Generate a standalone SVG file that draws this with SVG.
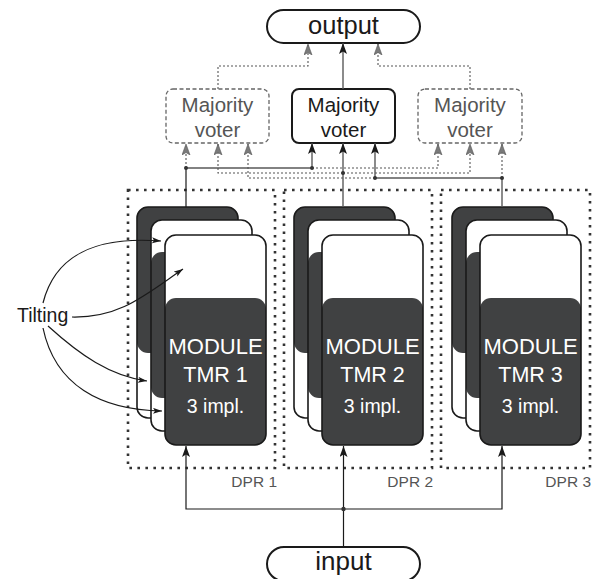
<svg xmlns="http://www.w3.org/2000/svg" xmlns:xlink="http://www.w3.org/1999/xlink" width="596" height="579" viewBox="0 0 596 579">
  <style>
    .txt { font-family: "Liberation Sans", Arial, sans-serif; }
    .pill { fill: #fff; stroke: #1a1a1a; stroke-width: 2; }
    .voter-main { fill: #fff; stroke: #1a1a1a; stroke-width: 2; }
    .voter-spare { fill: #fff; stroke: #666; stroke-width: 1.3; stroke-dasharray: 4 2.5; }
    .card { fill: #fff; }
    .card-edge { fill: none; stroke: #1a1a1a; stroke-width: 1.6; }
    .core { fill: #404142; }
    .dpr { fill: none; stroke: #333; stroke-width: 2.6; stroke-dasharray: 2.6 5.4; }
    .wire { fill: none; stroke: #1a1a1a; stroke-width: 1.2; }
    .wire-grey { fill: none; stroke: #5a5a5a; stroke-width: 1.4; }
    .wire-dot { fill: none; stroke: #555; stroke-width: 1.1; stroke-dasharray: 2 2; }
    .joint { fill: #333; }
    .lbl-dark { fill: #1a1a1a; }
    .lbl-grey { fill: #555; }
    .lbl-white { fill: #fff; }
  </style>
  <defs>
    <marker id="arrow-black" markerUnits="userSpaceOnUse" markerWidth="12" markerHeight="10" refX="11" refY="4" orient="auto">
      <path d="M0,0 L11,4 L0,8 L2.5,4 z" fill="#1a1a1a"/>
    </marker>
    <marker id="arrow-grey" markerUnits="userSpaceOnUse" markerWidth="12" markerHeight="10" refX="11" refY="4" orient="auto">
      <path d="M0,0 L11,4 L0,8 L2.5,4 z" fill="#7a7a7a" stroke="#555" stroke-width="0.6"/>
    </marker>
    <marker id="arrow-small" markerUnits="userSpaceOnUse" markerWidth="10" markerHeight="8" refX="9" refY="3" orient="auto">
      <path d="M0,0 L9,3 L0,6 L2,3 z" fill="#1a1a1a"/>
    </marker>
    <!-- three stacked implementations; the dark core slides down from back to front -->
    <g id="stack">
      <rect class="card" x="0" y="0" width="101" height="211" rx="11"/>
      <rect class="core" x="0" y="0" width="101" height="146" rx="11"/>
      <rect class="card-edge" x="0" y="0" width="101" height="211" rx="11"/>
      <rect class="card" x="14" y="13" width="101" height="211" rx="11"/>
      <rect class="core" x="14" y="45" width="101" height="146" rx="11"/>
      <rect class="card-edge" x="14" y="13" width="101" height="211" rx="11"/>
      <rect class="card" x="28" y="28" width="101" height="210" rx="11"/>
      <rect class="core" x="28" y="91" width="101" height="147" rx="11"/>
      <rect class="card-edge" x="28" y="28" width="101" height="210" rx="11"/>
    </g>
  </defs>

  <!-- reconfigurable partitions -->
  <g id="dpr1">
    <rect class="dpr" x="128" y="190" width="147" height="278"/>
    <text class="txt lbl-grey" x="277" y="487" font-size="15.5" text-anchor="end">DPR 1</text>
  </g>
  <g id="dpr2">
    <rect class="dpr" x="284" y="190" width="148" height="278"/>
    <text class="txt lbl-grey" x="433" y="487" font-size="15.5" text-anchor="end">DPR 2</text>
  </g>
  <g id="dpr3">
    <rect class="dpr" x="441" y="190" width="149" height="278"/>
    <text class="txt lbl-grey" x="591" y="487" font-size="15.5" text-anchor="end">DPR 3</text>
  </g>

  <!-- TMR modules -->
  <g id="tmr1">
    <use xlink:href="#stack" href="#stack" x="137" y="207"/>
    <text class="txt lbl-white" x="215.5" y="354" font-size="22" text-anchor="middle">MODULE</text>
    <text class="txt lbl-white" x="215.5" y="382" font-size="21.5" text-anchor="middle">TMR 1</text>
    <text class="txt lbl-white" x="215.5" y="413" font-size="19.5" text-anchor="middle">3 impl.</text>
  </g>
  <g id="tmr2">
    <use xlink:href="#stack" href="#stack" x="294" y="207"/>
    <text class="txt lbl-white" x="372.5" y="354" font-size="22" text-anchor="middle">MODULE</text>
    <text class="txt lbl-white" x="372.5" y="382" font-size="21.5" text-anchor="middle">TMR 2</text>
    <text class="txt lbl-white" x="372.5" y="413" font-size="19.5" text-anchor="middle">3 impl.</text>
  </g>
  <g id="tmr3">
    <use xlink:href="#stack" href="#stack" x="452" y="207"/>
    <text class="txt lbl-white" x="530.5" y="354" font-size="22" text-anchor="middle">MODULE</text>
    <text class="txt lbl-white" x="530.5" y="382" font-size="21.5" text-anchor="middle">TMR 3</text>
    <text class="txt lbl-white" x="530.5" y="413" font-size="19.5" text-anchor="middle">3 impl.</text>
  </g>

  <!-- voters -->
  <g id="voter-left">
    <rect class="voter-spare" x="166" y="89" width="103" height="54" rx="7"/>
    <text class="txt lbl-grey" x="217.5" y="112" font-size="20.5" text-anchor="middle">Majority</text>
    <text class="txt lbl-grey" x="217.5" y="137" font-size="20.5" text-anchor="middle">voter</text>
  </g>
  <g id="voter-main">
    <rect class="voter-main" x="292" y="89" width="103" height="54" rx="7"/>
    <text class="txt lbl-dark" x="343.5" y="112" font-size="20.5" text-anchor="middle">Majority</text>
    <text class="txt lbl-dark" x="343.5" y="137" font-size="20.5" text-anchor="middle">voter</text>
  </g>
  <g id="voter-right">
    <rect class="voter-spare" x="418" y="89" width="104" height="54" rx="7"/>
    <text class="txt lbl-grey" x="470" y="112" font-size="20.5" text-anchor="middle">Majority</text>
    <text class="txt lbl-grey" x="470" y="137" font-size="20.5" text-anchor="middle">voter</text>
  </g>

  <!-- I/O terminals -->
  <g id="output">
    <rect class="pill" x="267" y="10" width="153" height="33" rx="16.5"/>
    <text class="txt lbl-dark" x="343.5" y="34" font-size="25.5" text-anchor="middle">output</text>
  </g>
  <g id="input">
    <rect class="pill" x="267" y="547" width="153" height="34" rx="17"/>
    <text class="txt lbl-dark" x="343.5" y="570" font-size="26" text-anchor="middle">input</text>
  </g>

  <g id="tilting">
    <text class="txt lbl-dark" x="17" y="322" font-size="19.5">Tilting</text>
  </g>

  <g id="connectors">
    <!-- voters to output -->
    <path class="wire-grey" d="M343 89 V43" marker-end="url(#arrow-black)"/>
    <path class="wire-dot" d="M218 89 V66 H308 V44" marker-end="url(#arrow-grey)"/>
    <path class="wire-dot" d="M470 89 V66 H378 V44" marker-end="url(#arrow-grey)"/>

    <!-- module outputs up to the fan-out -->
    <path class="wire" d="M186 207 V168"/>
    <path class="wire-grey" d="M343 207 V143" marker-end="url(#arrow-black)"/>
    <path class="wire-grey" d="M502 207 V178"/>

    <!-- TMR 1 fan-out -->
    <path class="wire-dot" d="M186 168 V144" marker-end="url(#arrow-grey)"/>
    <path class="wire-grey" d="M186 168 H312 V143" marker-end="url(#arrow-black)"/>
    <path class="wire-dot" d="M312 168 H438 V144" marker-end="url(#arrow-grey)"/>

    <!-- TMR 2 fan-out -->
    <path class="wire-dot" d="M343 173 H218 V144" marker-end="url(#arrow-grey)"/>
    <path class="wire-dot" d="M343 173 H470 V144" marker-end="url(#arrow-grey)"/>

    <!-- TMR 3 fan-out -->
    <path class="wire-dot" d="M502 178 V144" marker-end="url(#arrow-grey)"/>
    <path class="wire-grey" d="M502 178 H375 V143" marker-end="url(#arrow-black)"/>
    <path class="wire-dot" d="M375 178 H248 V144" marker-end="url(#arrow-grey)"/>

    <circle class="joint" cx="186" cy="168" r="2"/>
    <circle class="joint" cx="312" cy="168" r="2"/>
    <circle class="joint" cx="343" cy="173" r="2"/>
    <circle class="joint" cx="375" cy="178" r="2"/>
    <circle class="joint" cx="502" cy="178" r="2"/>

    <!-- input distribution -->
    <path class="wire" d="M343.5 547 V509"/>
    <path class="wire" d="M343.5 509 H186 V446" marker-end="url(#arrow-black)"/>
    <path class="wire" d="M343.5 509 V446" marker-end="url(#arrow-black)"/>
    <path class="wire" d="M343.5 509 H502 V446" marker-end="url(#arrow-black)"/>
    <circle class="joint" cx="343.5" cy="509" r="2.2"/>

    <!-- tilting callouts -->
    <path class="wire" d="M43 303 C55 255 95 236 161 241" marker-end="url(#arrow-small)"/>
    <path class="wire" d="M72 317 C120 318 145 295 183 269" marker-end="url(#arrow-small)"/>
    <path class="wire" d="M48 326 C80 355 110 376 147 381" marker-end="url(#arrow-small)"/>
    <path class="wire" d="M43 328 C55 385 100 410 162 411" marker-end="url(#arrow-small)"/>
  </g>
</svg>
